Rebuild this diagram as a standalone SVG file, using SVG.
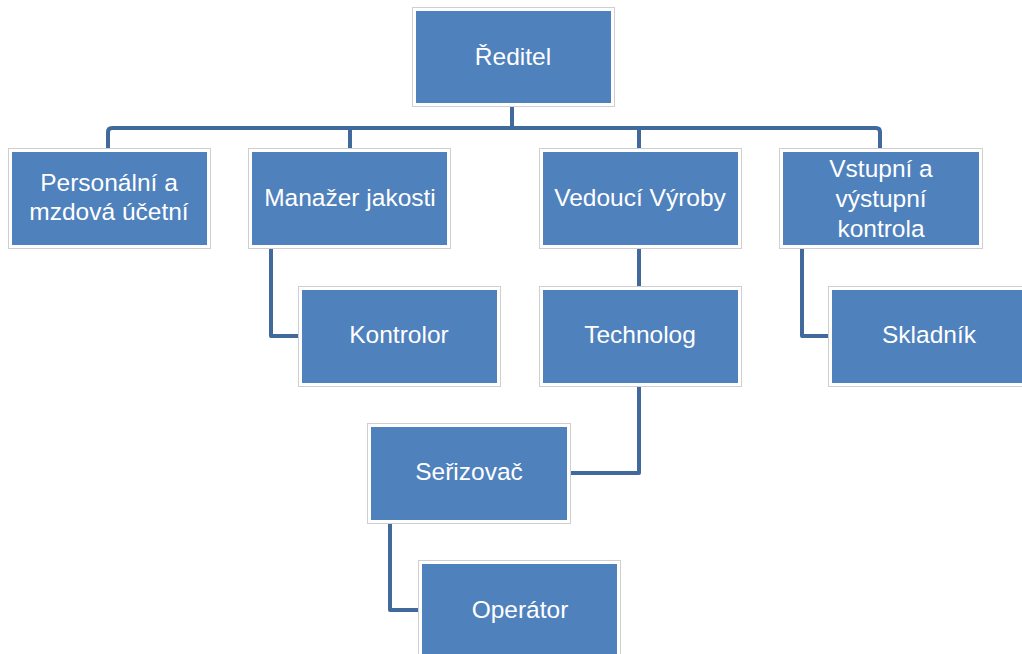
<svg xmlns="http://www.w3.org/2000/svg" width="1022" height="654" viewBox="0 0 1022 654">
<style>
.outer{fill:#ffffff;stroke:#cfcfcf;stroke-width:1}
.inner{fill:#4f81bd}
.lbl{font-family:"Liberation Sans",Arial,sans-serif;font-size:24.5px;fill:#ffffff;text-anchor:middle}
.con{fill:none;stroke:#41699c;stroke-width:4;stroke-linejoin:round}
</style>
<rect width="1022" height="654" fill="#ffffff"/>
<g id="connectors">
<path class="con" d="M512 106 V128"/>
<path class="con" d="M108 148 V132 Q108 128 112 128 H876 Q880 128 880 132 V148"/>
<path class="con" d="M350 128 V148"/>
<path class="con" d="M639 128 V148"/>
<path class="con" d="M271 248 V336 H298"/>
<path class="con" d="M639 248 V286"/>
<path class="con" d="M639 387 V473 H571"/>
<path class="con" d="M390 523 V610 H418"/>
<path class="con" d="M802 248 V336 H828"/>
</g>
<g id="reditel">
<rect class="outer" x="412.5" y="7.5" width="202" height="99"/>
<rect class="inner" x="416" y="11" width="195" height="92"/>
<text class="lbl" x="513" y="65">Ředitel</text>
</g>
<g id="personalni">
<rect class="outer" x="8.5" y="148.5" width="202" height="100"/>
<rect class="inner" x="12" y="152" width="195" height="93"/>
<text class="lbl" x="109" y="191">Personální a</text>
<text class="lbl" x="109" y="220">mzdová účetní</text>
</g>
<g id="manazer">
<rect class="outer" x="248.5" y="148.5" width="202" height="100"/>
<rect class="inner" x="252" y="152" width="195" height="93"/>
<text class="lbl" x="350" y="206">Manažer jakosti</text>
</g>
<g id="vedouci">
<rect class="outer" x="539.5" y="148.5" width="202" height="100"/>
<rect class="inner" x="543" y="152" width="195" height="93"/>
<text class="lbl" x="640" y="206">Vedoucí Výroby</text>
</g>
<g id="vstupni">
<rect class="outer" x="779.5" y="148.5" width="203" height="100"/>
<rect class="inner" x="783" y="152" width="196" height="93"/>
<text class="lbl" x="881" y="177">Vstupní a</text>
<text class="lbl" x="881" y="207">výstupní</text>
<text class="lbl" x="881" y="237">kontrola</text>
</g>
<g id="kontrolor">
<rect class="outer" x="298.5" y="286.5" width="202" height="100"/>
<rect class="inner" x="302" y="290" width="195" height="93"/>
<text class="lbl" x="399" y="343">Kontrolor</text>
</g>
<g id="technolog">
<rect class="outer" x="539.5" y="286.5" width="202" height="100"/>
<rect class="inner" x="543" y="290" width="195" height="93"/>
<text class="lbl" x="640" y="343">Technolog</text>
</g>
<g id="skladnik">
<rect class="outer" x="828.5" y="286.5" width="202" height="100"/>
<rect class="inner" x="832" y="290" width="195" height="93"/>
<text class="lbl" x="929" y="343">Skladník</text>
</g>
<g id="serizovac">
<rect class="outer" x="367.5" y="423.5" width="203" height="100"/>
<rect class="inner" x="371" y="427" width="196" height="93"/>
<text class="lbl" x="469" y="480">Seřizovač</text>
</g>
<g id="operator">
<rect class="outer" x="418.5" y="560.5" width="202" height="100"/>
<rect class="inner" x="422" y="564" width="195" height="93"/>
<text class="lbl" x="520" y="618">Operátor</text>
</g>
</svg>
